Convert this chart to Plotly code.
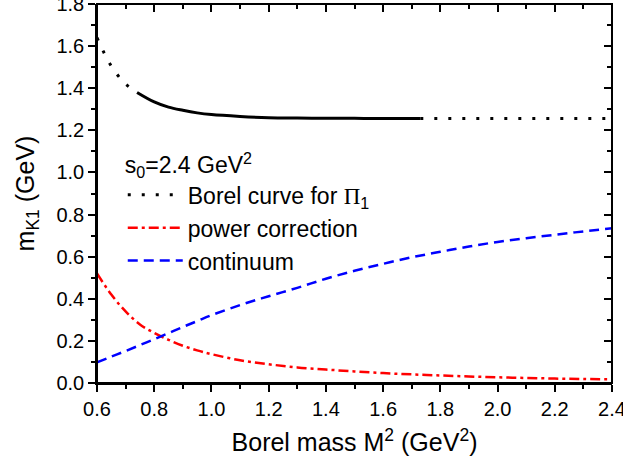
import plotly.graph_objects as go

# Borel curve for Pi_1 (solid between indices SOLID_START..SOLID_END)
borel_M2 = [0.6, 0.65, 0.7, 0.74, 0.8, 0.85, 0.9, 0.95, 1.0, 1.1, 1.2, 1.3, 1.4,
            1.5, 1.6, 1.73, 1.8, 1.9, 2.0, 2.1, 2.2, 2.3, 2.4]
borel_m = [1.64, 1.505, 1.42, 1.38, 1.335, 1.31, 1.295, 1.283, 1.275, 1.266, 1.260,
           1.258, 1.257, 1.257, 1.256, 1.256, 1.256, 1.256, 1.256, 1.256, 1.256, 1.256, 1.256]
SOLID_START, SOLID_END = 3, 15

M2 = [0.6, 0.65, 0.7, 0.75, 0.8, 0.85, 0.9, 0.95, 1.0, 1.1, 1.2, 1.3, 1.4, 1.5,
      1.6, 1.7, 1.8, 1.9, 2.0, 2.1, 2.2, 2.3, 2.4]
power_corr = [0.52, 0.42, 0.34, 0.278, 0.238, 0.205, 0.177, 0.155, 0.137, 0.108, 0.089,
              0.074, 0.064, 0.055, 0.047, 0.041, 0.036, 0.031, 0.027, 0.024, 0.021, 0.019, 0.017]
continuum = [0.098, 0.125, 0.152, 0.18, 0.208, 0.237, 0.266, 0.294, 0.322, 0.370, 0.412,
             0.452, 0.495, 0.533, 0.566, 0.597, 0.623, 0.648, 0.670, 0.688, 0.704, 0.720, 0.735]

x_ticks = [0.6, 0.8, 1.0, 1.2, 1.4, 1.6, 1.8, 2.0, 2.2, 2.4]
y_ticks = [0.0, 0.2, 0.4, 0.6, 0.8, 1.0, 1.2, 1.4, 1.6, 1.8]

FONT = "Liberation Sans, Arial, sans-serif"

fig = go.Figure()
fig.add_trace(go.Scatter(
    x=borel_M2[:SOLID_START + 1], y=borel_m[:SOLID_START + 1], mode="lines",
    line=dict(color="black", width=3, dash="3px,11px", shape="spline"),
    name="Borel curve for <span style=\"font-family:'Liberation Serif'\">Π</span><sub>1</sub>",
    legendgroup="b"))
fig.add_trace(go.Scatter(
    x=borel_M2[SOLID_START:SOLID_END + 1], y=borel_m[SOLID_START:SOLID_END + 1], mode="lines",
    line=dict(color="black", width=3, shape="spline"), showlegend=False, legendgroup="b"))
fig.add_trace(go.Scatter(
    x=borel_M2[SOLID_END:], y=borel_m[SOLID_END:], mode="lines",
    line=dict(color="black", width=3, dash="3px,11px"), showlegend=False, legendgroup="b"))
fig.add_trace(go.Scatter(
    x=M2, y=power_corr, mode="lines", name="power correction",
    line=dict(color="red", width=2.5, dash="10px,4px,3px,4px", shape="spline")))
fig.add_trace(go.Scatter(
    x=M2, y=continuum, mode="lines", name="continuum",
    line=dict(color="blue", width=2.5, dash="10px,6px", shape="spline")))
# invisible carrier traces so that the top/right tick axes are drawn
fig.add_trace(go.Scatter(
    x=[x_ticks[0], x_ticks[-1]], y=[y_ticks[0], y_ticks[-1]], xaxis="x2", yaxis="y",
    mode="markers", marker=dict(opacity=0), showlegend=False, hoverinfo="skip"))
fig.add_trace(go.Scatter(
    x=[x_ticks[0], x_ticks[-1]], y=[y_ticks[0], y_ticks[-1]], xaxis="x", yaxis="y2",
    mode="markers", marker=dict(opacity=0), showlegend=False, hoverinfo="skip"))

axis_common = dict(showline=True, linecolor="black", linewidth=1.5, showgrid=False,
                   zeroline=False, tickcolor="black", tickwidth=1.5, automargin=False)

fig.update_layout(
    width=623, height=465,
    margin=dict(l=97, r=11, t=4, b=82),
    plot_bgcolor="white", paper_bgcolor="white",
    font=dict(family=FONT, size=20, color="black"),
    xaxis=dict(range=[0.6, 2.4], tickvals=x_ticks, ticktext=[f"{v:.1f}" for v in x_ticks],
               ticks="outside", ticklen=7, ticklabeloverflow="allow",
               minor=dict(dtick=0.1, ticks="outside", ticklen=4, tickcolor="black", tickwidth=1.5),
               title=dict(text="Borel mass M<sup>2</sup> (GeV<sup>2</sup>)", font=dict(size=25), standoff=15),
               **axis_common),
    yaxis=dict(range=[0, 1.8], tickvals=y_ticks, ticktext=[f"{v:.1f}" for v in y_ticks],
               ticks="outside", ticklen=7, ticklabeloverflow="allow",
               minor=dict(dtick=0.1, ticks="outside", ticklen=4, tickcolor="black", tickwidth=1.5),
               title=dict(text="m<sub>K1</sub> (GeV)", font=dict(size=25), standoff=15),
               **axis_common),
    xaxis2=dict(range=[0.6, 2.4], overlaying="x", side="top", anchor="free", position=1,
                tickvals=x_ticks, showticklabels=False, ticks="inside", ticklen=7,
                minor=dict(dtick=0.1, ticks="inside", ticklen=4, tickcolor="black", tickwidth=1.5),
                **axis_common),
    yaxis2=dict(range=[0, 1.8], overlaying="y", side="right", anchor="free", position=1,
                tickvals=y_ticks, showticklabels=False, ticks="inside", ticklen=7,
                minor=dict(dtick=0.1, ticks="inside", ticklen=4, tickcolor="black", tickwidth=1.5),
                **axis_common),
    shapes=[dict(type="rect", xref="paper", yref="paper", x0=0, x1=1, y0=0, y1=1,
                 line=dict(color="black", width=2), layer="above")],
    legend=dict(x=0.05, y=0.632, xanchor="left", yanchor="top", bgcolor="rgba(0,0,0,0)",
                font=dict(size=23), itemwidth=55, tracegroupgap=0,
                title=dict(text="s<sub>0</sub>=2.4 GeV<sup>2</sup>", font=dict(size=23), side="top")),
    showlegend=True,
)

fig.write_html("out.html", config={"displayModeBar": False},
               post_script="document.body.style.margin='0px';")
